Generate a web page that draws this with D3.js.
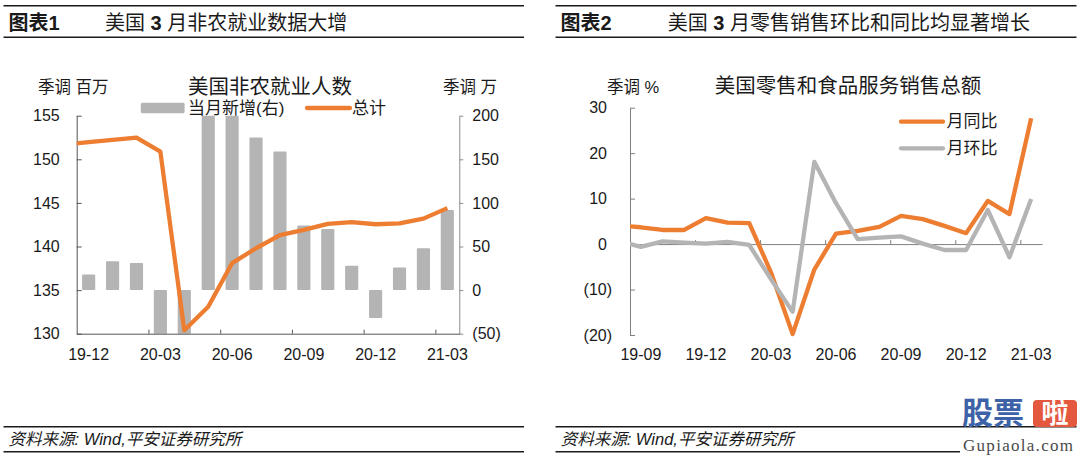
<!DOCTYPE html>
<html><head><meta charset="utf-8">
<script src="https://cdn.jsdelivr.net/npm/d3@7"></script>
<style>
body{margin:0;background:#fff}
svg{display:block}
text{font-family:"Liberation Sans",Arial,"Noto Sans CJK SC",sans-serif;fill:#1a1a1a}
</style>
</head><body>
<svg id="c" width="1080" height="458"></svg>
<script>
// ---------- Chart 1 data ----------
const months1 = ["19-12","20-01","20-02","20-03","20-04","20-05","20-06","20-07","20-08","20-09","20-10","20-11","20-12","21-01","21-02","21-03"];
const payrollChange = [18, 33, 31, -137, -2068, 272, 478, 175, 159, 74, 70, 28, -32, 26, 48, 92]; // 万, right axis
const lineMonths1 = ["19-11"].concat(months1); // first month lies left of the axis and is clipped
const totalPayrolls = [151.7, 151.96, 152.22, 152.48, 150.87, 130.4, 133.1, 138.1, 139.8, 141.3, 141.9, 142.6, 142.8, 142.55, 142.65, 143.2, 144.4]; // 百万
const leftTicks1 = [130, 135, 140, 145, 150, 155];
const rightTicks1 = [-50, 0, 50, 100, 150, 200];
const xLabels1 = ["19-12","20-03","20-06","20-09","20-12","21-03"];

// ---------- Chart 2 data ----------
const months2 = ["19-09","19-10","19-11","19-12","20-01","20-02","20-03","20-04","20-05","20-06","20-07","20-08","20-09","20-10","20-11","20-12","21-01","21-02","21-03"];
const lineMonths2 = ["19-08"].concat(months2); // first month clipped at the axis
const retailYoY = [4.1, 3.7, 3.1, 3.1, 5.7, 4.7, 4.6, -6.2, -19.8, -5.6, 2.3, 2.9, 3.8, 6.2, 5.5, 4.0, 2.4, 9.5, 6.6, 27.7];
const retailMoM = [0.6, -0.6, 0.6, 0.3, 0.1, 0.5, -0.2, -7.7, -14.9, 18.1, 9.0, 1.1, 1.4, 1.7, 0.1, -1.3, -1.3, 7.5, -2.9, 9.9];
const yTicks2 = [-20, -10, 0, 10, 20, 30];
const xLabels2 = ["19-09","19-12","20-03","20-06","20-09","20-12","21-03"];

const ORANGE = "#ED7D31", GRAY = "#b4b4b4", RED = "#cf1f2e", DARK = "#1a1a1a";
const fmtNeg = v => v < 0 ? "(" + (-v) + ")" : String(v);

const svg = d3.select("#c");
const defs = svg.append("defs");

// ---------- Headers / footers ----------
function frame(x0, x1, num) {
  [5.7, 37.3, 426.7].forEach(y => svg.append("line").attr("x1", x0).attr("x2", x1).attr("y1", y).attr("y2", y)
    .attr("stroke", DARK).attr("stroke-width", 1.4));
  const h = svg.append("text").attr("x", x0 + 5).attr("y", 23).attr("dominant-baseline", "central")
    .attr("font-size", 20);
  h.append("tspan").attr("font-weight", "bold").text("图表" + num);
}
function footerLine(x0, x1) {
  svg.append("line").attr("x1", x0).attr("x2", x1).attr("y1", 451.7).attr("y2", 451.7)
    .attr("stroke", DARK).attr("stroke-width", 1.4);
}
function headerTitle(x, parts) {
  const t = svg.append("text").attr("x", x).attr("y", 23).attr("dominant-baseline", "central").attr("font-size", 20);
  parts.forEach(p => t.append("tspan").attr("font-weight", p.b ? "bold" : "normal").text(p.t));
}
function footerText(x) {
  svg.append("text").attr("x", x).attr("y", 439).attr("dominant-baseline", "central")
    .attr("font-size", 16.5).attr("font-style", "italic").text("资料来源: Wind,平安证券研究所");
}

frame(3.5, 524, "1");
footerLine(3.5, 524);
headerTitle(105, [{t:"美国 "},{t:"3",b:true},{t:" 月非农就业数据大增"}]);
footerText(8.6);

frame(555.5, 1076.5, "2");
footerLine(555.5, 960);
headerTitle(667.7, [{t:"美国 "},{t:"3",b:true},{t:" 月零售销售环比和同比均显著增长"}]);
footerText(560.7);

// ---------- Chart 1 ----------
{
  const L = 76.7, R = 459.3, T = 115.7, B = 333.7;
  const x = d3.scaleBand().domain(months1).range([L, R]).paddingInner(0.45).paddingOuter(0.225);
  const xi = d3.scaleLinear().domain([0, months1.length]).range([L, R]);
  const yL = d3.scaleLinear().domain([130, 155]).range([B, T]);
  const yR = d3.scaleLinear().domain([-50, 200]).range([B, T]);

  defs.append("clipPath").attr("id", "clip1").append("rect")
    .attr("x", L).attr("y", T).attr("width", R - L).attr("height", B - T);
  defs.append("clipPath").attr("id", "clip1l").append("rect")
    .attr("x", L).attr("y", 0).attr("width", R - L + 20).attr("height", 458);

  svg.append("g").attr("clip-path", "url(#clip1)").selectAll("rect").data(payrollChange).join("rect")
    .attr("x", (d, i) => x(months1[i])).attr("width", x.bandwidth())
    .attr("y", d => yR(Math.max(0, d))).attr("height", d => Math.abs(yR(d) - yR(0)))
    .attr("rx", 1).attr("fill", GRAY);

  const gl = svg.append("g").attr("transform", `translate(${L},0)`)
    .call(d3.axisLeft(yL).tickValues(leftTicks1).tickSizeInner(-5).tickSizeOuter(0).tickPadding(17));
  gl.select(".domain").attr("stroke", "#555");
  gl.selectAll(".tick line").attr("stroke", "#555");
  gl.selectAll("text").attr("font-size", 16).attr("fill", DARK).style("font-family", null);

  const gr = svg.append("g").attr("transform", `translate(${R},0)`)
    .call(d3.axisRight(yR).tickValues(rightTicks1).tickSizeInner(4).tickSizeOuter(0).tickPadding(9).tickFormat(fmtNeg));
  gr.select(".domain").attr("stroke", "#8c8c8c");
  gr.selectAll(".tick line").attr("stroke", "#8c8c8c");
  gr.selectAll("text").attr("font-size", 16).attr("fill", d => d < 0 ? RED : DARK).style("font-family", null);

  const gb = svg.append("g").attr("transform", `translate(0,${B})`)
    .call(d3.axisBottom(xi).tickValues([3, 6, 9, 12, 15]).tickSizeInner(-4).tickSizeOuter(0).tickFormat(""));
  gb.select(".domain").attr("stroke", "#555");
  gb.selectAll(".tick line").attr("stroke", "#555");
  svg.append("g").selectAll("text").data(xLabels1).join("text")
    .attr("x", d => x(d) + x.bandwidth() / 2).attr("y", 354.3).attr("dominant-baseline", "central")
    .attr("text-anchor", "middle").attr("font-size", 16).text(d => d);

  const line = d3.line().x((d, i) => xi(i - 1 + 0.5)).y(d => yL(d));
  svg.append("path").attr("clip-path", "url(#clip1l)").datum(totalPayrolls).attr("d", line)
    .attr("fill", "none").attr("stroke", ORANGE).attr("stroke-width", 4.3).attr("stroke-linejoin", "round");

  svg.append("text").attr("x", 38).attr("y", 86.7).attr("dominant-baseline", "central").attr("font-size", 16.5).text("季调 百万");
  svg.append("text").attr("x", 443).attr("y", 86.7).attr("dominant-baseline", "central").attr("font-size", 16.5).text("季调 万");
  svg.append("text").attr("x", 270).attr("y", 86).attr("dominant-baseline", "central").attr("text-anchor", "middle")
    .attr("font-size", 20.5).text("美国非农就业人数");

  svg.append("rect").attr("x", 140.8).attr("y", 102.7).attr("width", 43.8).attr("height", 10.6).attr("rx", 1.5).attr("fill", GRAY);
  svg.append("text").attr("x", 188).attr("y", 108).attr("dominant-baseline", "central").attr("font-size", 17).text("当月新增(右)");
  svg.append("line").attr("x1", 307).attr("x2", 350).attr("y1", 108).attr("y2", 108).attr("stroke", ORANGE).attr("stroke-width", 4.3).attr("stroke-linecap", "round");
  svg.append("text").attr("x", 352).attr("y", 108).attr("dominant-baseline", "central").attr("font-size", 17).text("总计");
}

// ---------- Chart 2 ----------
{
  const L = 630, R = 1042, T = 107.7, B = 335;
  const xi = d3.scaleLinear().domain([0, months2.length]).range([L, R]);
  const y = d3.scaleLinear().domain([-20, 30]).range([B, T]);

  defs.append("clipPath").attr("id", "clip2").append("rect")
    .attr("x", L).attr("y", 0).attr("width", R - L + 20).attr("height", 458);

  const gl = svg.append("g").attr("transform", `translate(${L},0)`)
    .call(d3.axisLeft(y).tickValues(yTicks2).tickSizeInner(-5).tickSizeOuter(0).tickPadding(18).tickFormat(fmtNeg));
  gl.select(".domain").attr("stroke", "#7f7f7f");
  gl.selectAll(".tick line").attr("stroke", "#7f7f7f");
  gl.selectAll("text").attr("font-size", 16).attr("fill", d => d < 0 ? RED : DARK)
    .attr("dx", d => d < 0 ? 0 : -5).style("font-family", null);

  const gb = svg.append("g").attr("transform", `translate(0,${y(0)})`)
    .call(d3.axisBottom(xi).tickValues([3, 6, 9, 12, 15, 18]).tickSizeInner(-4).tickSizeOuter(0).tickFormat(""));
  gb.select(".domain").attr("stroke", "#7f7f7f");
  gb.selectAll(".tick line").attr("stroke", "#7f7f7f");
  svg.append("g").selectAll("text").data(xLabels2).join("text")
    .attr("x", d => xi(months2.indexOf(d) + 0.5)).attr("y", 354.3).attr("dominant-baseline", "central")
    .attr("text-anchor", "middle").attr("font-size", 16).text(d => d);

  const line = d3.line().x((d, i) => xi(i - 1 + 0.5)).y(d => y(d));
  svg.append("path").attr("clip-path", "url(#clip2)").datum(retailYoY).attr("d", line)
    .attr("fill", "none").attr("stroke", ORANGE).attr("stroke-width", 4.3).attr("stroke-linejoin", "round");
  svg.append("path").attr("clip-path", "url(#clip2)").datum(retailMoM).attr("d", line)
    .attr("fill", "none").attr("stroke", GRAY).attr("stroke-width", 4.3).attr("stroke-linejoin", "round");

  svg.append("text").attr("x", 607).attr("y", 86.7).attr("dominant-baseline", "central").attr("font-size", 16.5).text("季调 %");
  svg.append("text").attr("x", 848).attr("y", 85).attr("dominant-baseline", "central").attr("text-anchor", "middle")
    .attr("font-size", 20.5).text("美国零售和食品服务销售总额");

  const leg = [{name: "月同比", color: ORANGE, y: 121.7}, {name: "月环比", color: GRAY, y: 148.3}];
  leg.forEach(l => {
    svg.append("line").attr("x1", 901).attr("x2", 943).attr("y1", l.y).attr("y2", l.y)
      .attr("stroke", l.color).attr("stroke-width", 4.3).attr("stroke-linecap", "round");
    svg.append("text").attr("x", 946.4).attr("y", l.y).attr("dominant-baseline", "central").attr("font-size", 17).text(l.name);
  });
}

// ---------- Watermark ----------
svg.append("text").attr("x", 962).attr("y", 413).attr("dominant-baseline", "central").attr("font-size", 31)
  .attr("font-weight", "bold").style("fill", "#3d62a8").text("股票");
svg.append("rect").attr("x", 1033).attr("y", 400).attr("width", 44).attr("height", 27).attr("rx", 4).attr("fill", "#e4583f");
svg.append("text").attr("x", 1055).attr("y", 413.5).attr("dominant-baseline", "central").attr("text-anchor", "middle")
  .attr("font-size", 27).attr("font-weight", "bold").style("fill", "#fff").text("啦");
svg.append("text").attr("x", 963).attr("y", 445).attr("dominant-baseline", "central").attr("font-size", 17)
  .attr("textLength", 110).style("font-family", "'Liberation Serif','DejaVu Serif',serif").style("fill", "#4a4a4a").text("Gupiaola.com");
</script>
</body></html>
